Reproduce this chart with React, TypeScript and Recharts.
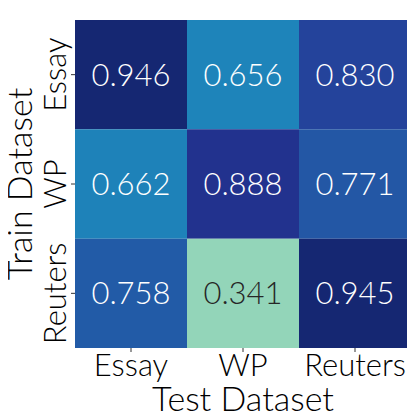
import React from "react";
import { ScatterChart, Scatter, XAxis, YAxis, ReferenceArea, Label } from "recharts";

const testLabels = ["Essay", "WP", "Reuters"];
const trainLabels = ["Essay", "WP", "Reuters"];
const rowEssay = [0.946, 0.656, 0.83];
const rowWP = [0.662, 0.888, 0.771];
const rowReuters = [0.758, 0.341, 0.945];
const matrix = [rowEssay, rowWP, rowReuters];

const STOPS = ["#ffffd9", "#edf8b1", "#c7e9b4", "#7fcdbb", "#41b6c4", "#1d91c0", "#225ea8", "#253494", "#081d58"];
function hexToRgb(h: string) {
  return [parseInt(h.slice(1, 3), 16), parseInt(h.slice(3, 5), 16), parseInt(h.slice(5, 7), 16)];
}
function ylgnbu(v: number) {
  const t = Math.max(0, Math.min(1, v)) * (STOPS.length - 1);
  const i = Math.min(Math.floor(t), STOPS.length - 2);
  const f = t - i;
  const a = hexToRgb(STOPS[i]);
  const b = hexToRgb(STOPS[i + 1]);
  const c = a.map((x, k) => Math.round(x + (b[k] - x) * f));
  return `rgb(${c[0]},${c[1]},${c[2]})`;
}

const FONT = "Lato, 'Open Sans', sans-serif";
const W = 300;

const points = matrix.flatMap((row, r) => row.map((v, c) => ({ x: c + 0.5, y: r + 0.5, v })));

const XTick = (props: any) => {
  const { x, y, payload } = props;
  return (
    <text x={x} y={y + 22} textAnchor="middle" fontSize={31} fontWeight={W} fontFamily={FONT} fill="#000">
      {testLabels[Math.floor(payload.value)]}
    </text>
  );
};

const YTick = (props: any) => {
  const { x, y, payload } = props;
  const tx = x - 3;
  return (
    <text
      x={tx}
      y={y}
      transform={`rotate(-90, ${tx}, ${y})`}
      textAnchor="middle"
      fontSize={31}
      fontWeight={W}
      fontFamily={FONT}
      fill="#000"
    >
      {trainLabels[Math.floor(payload.value)]}
    </text>
  );
};

const XTitle = (props: any) => {
  const vb = props.viewBox || {};
  const cx = vb.x + vb.width / 2;
  return (
    <text x={cx} y={403} textAnchor="middle" fontSize={34} fontWeight={W} fontFamily={FONT} fill="#000">
      Test Dataset
    </text>
  );
};

const YTitle = (props: any) => {
  const vb = props.viewBox || {};
  const cy = vb.y + vb.height / 2;
  const tx = 24;
  return (
    <text
      x={tx}
      y={cy}
      transform={`rotate(-90, ${tx}, ${cy})`}
      textAnchor="middle"
      fontSize={34}
      fontWeight={W}
      fontFamily={FONT}
      fill="#000"
    >
      Train Dataset
    </text>
  );
};

export default function App() {
  const cells: any[] = [];
  matrix.forEach((row, r) => {
    row.forEach((v, c) => {
      cells.push(
        <ReferenceArea
          key={`${r}-${c}`}
          x1={c}
          x2={c + 1}
          y1={r}
          y2={r + 1}
          fill={ylgnbu(v)}
          fillOpacity={1}
          stroke="none"
          ifOverflow="visible"
        >
          <Label
            value={v.toFixed(3)}
            position="center"
            fontSize={31}
            fontWeight={W}
            fontFamily={FONT}
            fill={v < 0.5 ? "#262626" : "#ffffff"}
          />
        </ReferenceArea>
      );
    });
  });
  return (
    <ScatterChart width={407} height={407} margin={{ top: 12, right: 4, bottom: 0, left: 0 }}>
      <XAxis
        type="number"
        dataKey="x"
        domain={[0, 3]}
        ticks={[0.5, 1.5, 2.5]}
        tick={<XTick />}
        tickSize={4}
        tickLine={{ stroke: "#333" }}
        axisLine={false}
        height={67}
        interval={0}
        allowDataOverflow
      >
        <Label content={<XTitle />} />
      </XAxis>
      <YAxis
        type="number"
        dataKey="y"
        domain={[0, 3]}
        reversed
        ticks={[0.5, 1.5, 2.5]}
        tick={<YTick />}
        tickSize={4}
        tickLine={{ stroke: "#333" }}
        axisLine={false}
        width={67}
        interval={0}
        allowDataOverflow
      >
        <Label content={<YTitle />} />
      </YAxis>
      <Scatter data={points} isAnimationActive={false} shape={() => null} />
      {cells}
    </ScatterChart>
  );
}
